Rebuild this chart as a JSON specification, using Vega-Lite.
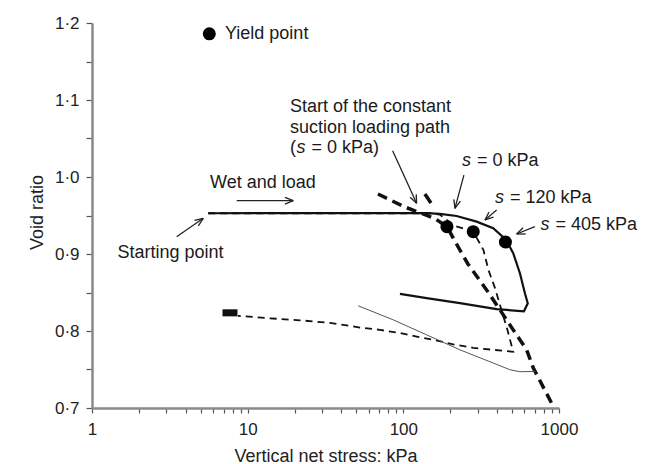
{
  "$schema": "https://vega.github.io/schema/vega-lite/v6.json",
  "width": 467,
  "height": 385,
  "autosize": {"type": "none"},
  "padding": {"left": 92, "top": 23, "right": 92, "bottom": 56},
  "background": "white",
  "config": {"view": {"stroke": null}, "font": "Liberation Sans"},
  "datasets": {
    "curves": [
      {"series": "s405", "i": 0, "x": 5.58, "y": 0.9529},
      {"series": "s405", "i": 1, "x": 30, "y": 0.9531},
      {"series": "s405", "i": 2, "x": 141, "y": 0.9532},
      {"series": "s405", "i": 3, "x": 171.8, "y": 0.9522},
      {"series": "s405", "i": 4, "x": 219.9, "y": 0.9494},
      {"series": "s405", "i": 5, "x": 295.7, "y": 0.942},
      {"series": "s405", "i": 6, "x": 377.9, "y": 0.9334},
      {"series": "s405", "i": 7, "x": 455, "y": 0.919},
      {"series": "s405", "i": 8, "x": 508, "y": 0.901},
      {"series": "s405", "i": 9, "x": 561, "y": 0.875},
      {"series": "s405", "i": 10, "x": 604, "y": 0.849},
      {"series": "s405", "i": 11, "x": 630, "y": 0.836},
      {"series": "s405", "i": 12, "x": 595, "y": 0.8255},
      {"series": "s405", "i": 13, "x": 397.3, "y": 0.8284},
      {"series": "s405", "i": 14, "x": 230.9, "y": 0.8362},
      {"series": "s405", "i": 15, "x": 141.1, "y": 0.8426},
      {"series": "s405", "i": 16, "x": 95.1, "y": 0.8482},
      {"series": "s120", "i": 0, "x": 5.58, "y": 0.9529},
      {"series": "s120", "i": 1, "x": 150, "y": 0.9529},
      {"series": "s120", "i": 2, "x": 171.8, "y": 0.951},
      {"series": "s120", "i": 3, "x": 214.5, "y": 0.9364},
      {"series": "s120", "i": 4, "x": 281.2, "y": 0.929},
      {"series": "s120", "i": 5, "x": 326.9, "y": 0.9053},
      {"series": "s120", "i": 6, "x": 352.1, "y": 0.8793},
      {"series": "s120", "i": 7, "x": 387.6, "y": 0.856},
      {"series": "s120", "i": 8, "x": 426.6, "y": 0.8275},
      {"series": "s120", "i": 9, "x": 466.2, "y": 0.8015},
      {"series": "s120", "i": 10, "x": 508, "y": 0.773},
      {"series": "s120", "i": 11, "x": 377.9, "y": 0.7756},
      {"series": "s120", "i": 12, "x": 281.2, "y": 0.7782},
      {"series": "s120", "i": 13, "x": 209.2, "y": 0.7827},
      {"series": "s120", "i": 14, "x": 155.6, "y": 0.7886},
      {"series": "s120", "i": 15, "x": 121.7, "y": 0.7928},
      {"series": "s120", "i": 16, "x": 95.1, "y": 0.7973},
      {"series": "s120", "i": 17, "x": 70.7, "y": 0.8015},
      {"series": "s120", "i": 18, "x": 52.6, "y": 0.8045},
      {"series": "s120", "i": 19, "x": 33.8, "y": 0.8106},
      {"series": "s120", "i": 20, "x": 21.7, "y": 0.8139},
      {"series": "s120", "i": 21, "x": 13.9, "y": 0.8165},
      {"series": "s120", "i": 22, "x": 8.66, "y": 0.8197},
      {"series": "s0", "i": 0, "x": 68.7, "y": 0.9779},
      {"series": "s0", "i": 1, "x": 102.4, "y": 0.961},
      {"series": "s0", "i": 2, "x": 127.8, "y": 0.9536},
      {"series": "s0", "i": 3, "x": 159.6, "y": 0.9461},
      {"series": "s0", "i": 4, "x": 190.6, "y": 0.9355},
      {"series": "s0", "i": 5, "x": 217.7, "y": 0.9143},
      {"series": "s0", "i": 6, "x": 259.9, "y": 0.8871},
      {"series": "s0", "i": 7, "x": 342.7, "y": 0.8534},
      {"series": "s0", "i": 8, "x": 417.3, "y": 0.8275},
      {"series": "s0", "i": 9, "x": 508, "y": 0.8015},
      {"series": "s0", "i": 10, "x": 619.4, "y": 0.7756},
      {"series": "s0", "i": 11, "x": 682.8, "y": 0.7523},
      {"series": "s0", "i": 12, "x": 913.6, "y": 0.703},
      {"series": "s0b", "i": 0, "x": 137.6, "y": 0.9779},
      {"series": "s0b", "i": 1, "x": 150.4, "y": 0.9662},
      {"series": "thin", "i": 0, "x": 51.3, "y": 0.8327},
      {"series": "thin", "i": 1, "x": 86.1, "y": 0.8145},
      {"series": "thin", "i": 2, "x": 141.1, "y": 0.795},
      {"series": "thin", "i": 3, "x": 230.9, "y": 0.7756},
      {"series": "thin", "i": 4, "x": 377.9, "y": 0.7584},
      {"series": "thin", "i": 5, "x": 483.7, "y": 0.7497},
      {"series": "thin", "i": 6, "x": 561, "y": 0.7471},
      {"series": "thin", "i": 7, "x": 700.1, "y": 0.7475}
    ],
    "yield": [
      {"x": 5.67, "y": 1.186},
      {"x": 190.6, "y": 0.9355},
      {"x": 281.2, "y": 0.929},
      {"x": 452.7, "y": 0.9156}
    ],
    "start": [
      {"x": 7.7, "y": 0.8236}
    ],
    "arrows": [
      {"x": 8.5, "y": 0.9692, "x2": 19.63, "y2": 0.9692},
      {"x": 17.36, "y": 0.9736, "x2": 19.63, "y2": 0.9692},
      {"x": 17.36, "y": 0.9648, "x2": 19.63, "y2": 0.9692},
      {"x": 3.499, "y": 0.9225, "x2": 5.186, "y2": 0.9464},
      {"x": 4.822, "y": 0.9366, "x2": 5.186, "y2": 0.9464},
      {"x": 4.554, "y": 0.9438, "x2": 5.186, "y2": 0.9464},
      {"x": 85.36, "y": 1.034, "x2": 121.7, "y2": 0.9658},
      {"x": 110.5, "y": 0.9738, "x2": 121.7, "y2": 0.9658},
      {"x": 121.0, "y": 0.9775, "x2": 121.7, "y2": 0.9658},
      {"x": 245.0, "y": 1.0025, "x2": 214.5, "y2": 0.9593},
      {"x": 211.1, "y": 0.9709, "x2": 214.5, "y2": 0.9593},
      {"x": 232.4, "y": 0.9686, "x2": 214.5, "y2": 0.9593},
      {"x": 397.5, "y": 0.9571, "x2": 334.3, "y2": 0.9442},
      {"x": 355.4, "y": 0.9545, "x2": 334.3, "y2": 0.9442},
      {"x": 379.2, "y": 0.9479, "x2": 334.3, "y2": 0.9442},
      {"x": 700.1, "y": 0.9355, "x2": 534.1, "y2": 0.926},
      {"x": 588.0, "y": 0.9341, "x2": 534.1, "y2": 0.926},
      {"x": 610.3, "y": 0.926, "x2": 534.1, "y2": 0.926}
    ],
    "labels": [
      {"label": "Yield point", "x": 7.15, "y": 1.1798},
      {"label": "Wet and load", "x": 5.73, "y": 0.9853},
      {"label": "Starting point", "x": 1.458, "y": 0.8945},
      {"label": "Start of the constant", "x": 18.69, "y": 1.0842},
      {"label": "suction loading path", "x": 18.69, "y": 1.0576},
      {"label": "(", "x": 18.69, "y": 1.031},
      {"label": "= 0 kPa)", "x": 25.7, "y": 1.031},
      {"label": "= 0 kPa", "x": 297.0, "y": 1.0146},
      {"label": "= 120 kPa", "x": 483.7, "y": 0.9662},
      {"label": "= 405 kPa", "x": 948.2, "y": 0.9312}
    ],
    "italics": [
      {"label": "s", "x": 20.58, "y": 1.031},
      {"label": "s", "x": 237.8, "y": 1.0146},
      {"label": "s", "x": 387.6, "y": 0.9662},
      {"label": "s", "x": 759.6, "y": 0.9312}
    ]
  },
  "encoding": {
    "x": {
      "field": "x",
      "type": "quantitative",
      "scale": {"type": "log", "domain": [1, 1000], "nice": false},
      "axis": {
        "title": "Vertical net stress: kPa",
        "values": [1, 2, 3, 4, 5, 6, 7, 8, 9, 10, 20, 30, 40, 50, 60, 70, 80, 90, 100, 200, 300, 400, 500, 600, 700, 800, 900, 1000],
        "format": "d",
        "labelExpr": "(datum.value == 1 || datum.value == 10 || datum.value == 100 || datum.value == 1000) ? datum.label : ''",
        "labelFlush": false,
        "labelOverlap": false,
        "grid": false,
        "domainColor": "#8a8a8a",
        "domainWidth": 2.5,
        "tickColor": "#555555",
        "tickWidth": 1.2,
        "tickSize": 5,
        "labelFont": "Liberation Sans",
        "labelFontSize": 17,
        "labelColor": "#222222",
        "labelPadding": 8,
        "titleFont": "Liberation Sans",
        "titleFontSize": 18,
        "titleFontWeight": "normal",
        "titleColor": "#222222",
        "titleY": 53,
        "titleBaseline": "alphabetic"
      }
    },
    "y": {
      "field": "y",
      "type": "quantitative",
      "scale": {"domain": [0.7, 1.2], "nice": false, "zero": false},
      "axis": {
        "title": "Void ratio",
        "values": [0.7, 0.75, 0.8, 0.85, 0.9, 0.95, 1.0, 1.05, 1.1, 1.15, 1.2],
        "labelExpr": "(round(datum.value * 100) % 10 == 0) ? replace(format(datum.value, '.1f'), '.', '·') : ''",
        "labelOverlap": false,
        "labelFlush": false,
        "grid": false,
        "domainColor": "#8a8a8a",
        "domainWidth": 2.5,
        "tickColor": "#555555",
        "tickWidth": 1.2,
        "tickSize": 6,
        "labelFont": "Liberation Sans",
        "labelFontSize": 17,
        "labelColor": "#222222",
        "labelPadding": 7,
        "titleFont": "Liberation Sans",
        "titleFontSize": 18,
        "titleFontWeight": "normal",
        "titleColor": "#222222",
        "titleX": -50,
        "titleY": 189,
        "titleBaseline": "alphabetic"
      }
    }
  },
  "layer": [
    {
      "data": {"name": "curves"},
      "transform": [{"filter": "datum.series == 's405'"}],
      "mark": {"type": "line", "color": "#111111", "strokeWidth": 2.2},
      "encoding": {"order": {"field": "i", "type": "quantitative"}}
    },
    {
      "data": {"name": "curves"},
      "transform": [{"filter": "datum.series == 's120'"}],
      "mark": {"type": "line", "color": "#111111", "strokeWidth": 1.8, "strokeDash": [7, 5]},
      "encoding": {"order": {"field": "i", "type": "quantitative"}}
    },
    {
      "data": {"name": "curves"},
      "transform": [{"filter": "datum.series == 's0'"}],
      "mark": {"type": "line", "color": "#111111", "strokeWidth": 3.5, "strokeDash": [10, 6]},
      "encoding": {"order": {"field": "i", "type": "quantitative"}}
    },
    {
      "data": {"name": "curves"},
      "transform": [{"filter": "datum.series == 's0b'"}],
      "mark": {"type": "line", "color": "#111111", "strokeWidth": 3.5},
      "encoding": {"order": {"field": "i", "type": "quantitative"}}
    },
    {
      "data": {"name": "curves"},
      "transform": [{"filter": "datum.series == 'thin'"}],
      "mark": {"type": "line", "color": "#555555", "strokeWidth": 1},
      "encoding": {"order": {"field": "i", "type": "quantitative"}}
    },
    {
      "data": {"name": "arrows"},
      "mark": {"type": "rule", "color": "#222222", "strokeWidth": 1.3},
      "encoding": {"x2": {"field": "x2"}, "y2": {"field": "y2"}}
    },
    {
      "data": {"name": "start"},
      "mark": {"type": "point", "shape": "M-1,-0.47H1V0.47H-1Z", "size": 225, "filled": true, "color": "#111111", "opacity": 1}
    },
    {
      "data": {"name": "yield"},
      "mark": {"type": "point", "shape": "circle", "size": 170, "filled": true, "color": "#000000", "opacity": 1}
    },
    {
      "data": {"name": "labels"},
      "mark": {"type": "text", "align": "left", "baseline": "alphabetic", "font": "Liberation Sans", "fontSize": 18, "color": "#1a1a1a"},
      "encoding": {"text": {"field": "label"}}
    },
    {
      "data": {"name": "italics"},
      "mark": {"type": "text", "align": "left", "baseline": "alphabetic", "font": "Liberation Sans", "fontSize": 18, "fontStyle": "italic", "color": "#1a1a1a"},
      "encoding": {"text": {"field": "label"}}
    }
  ]
}
